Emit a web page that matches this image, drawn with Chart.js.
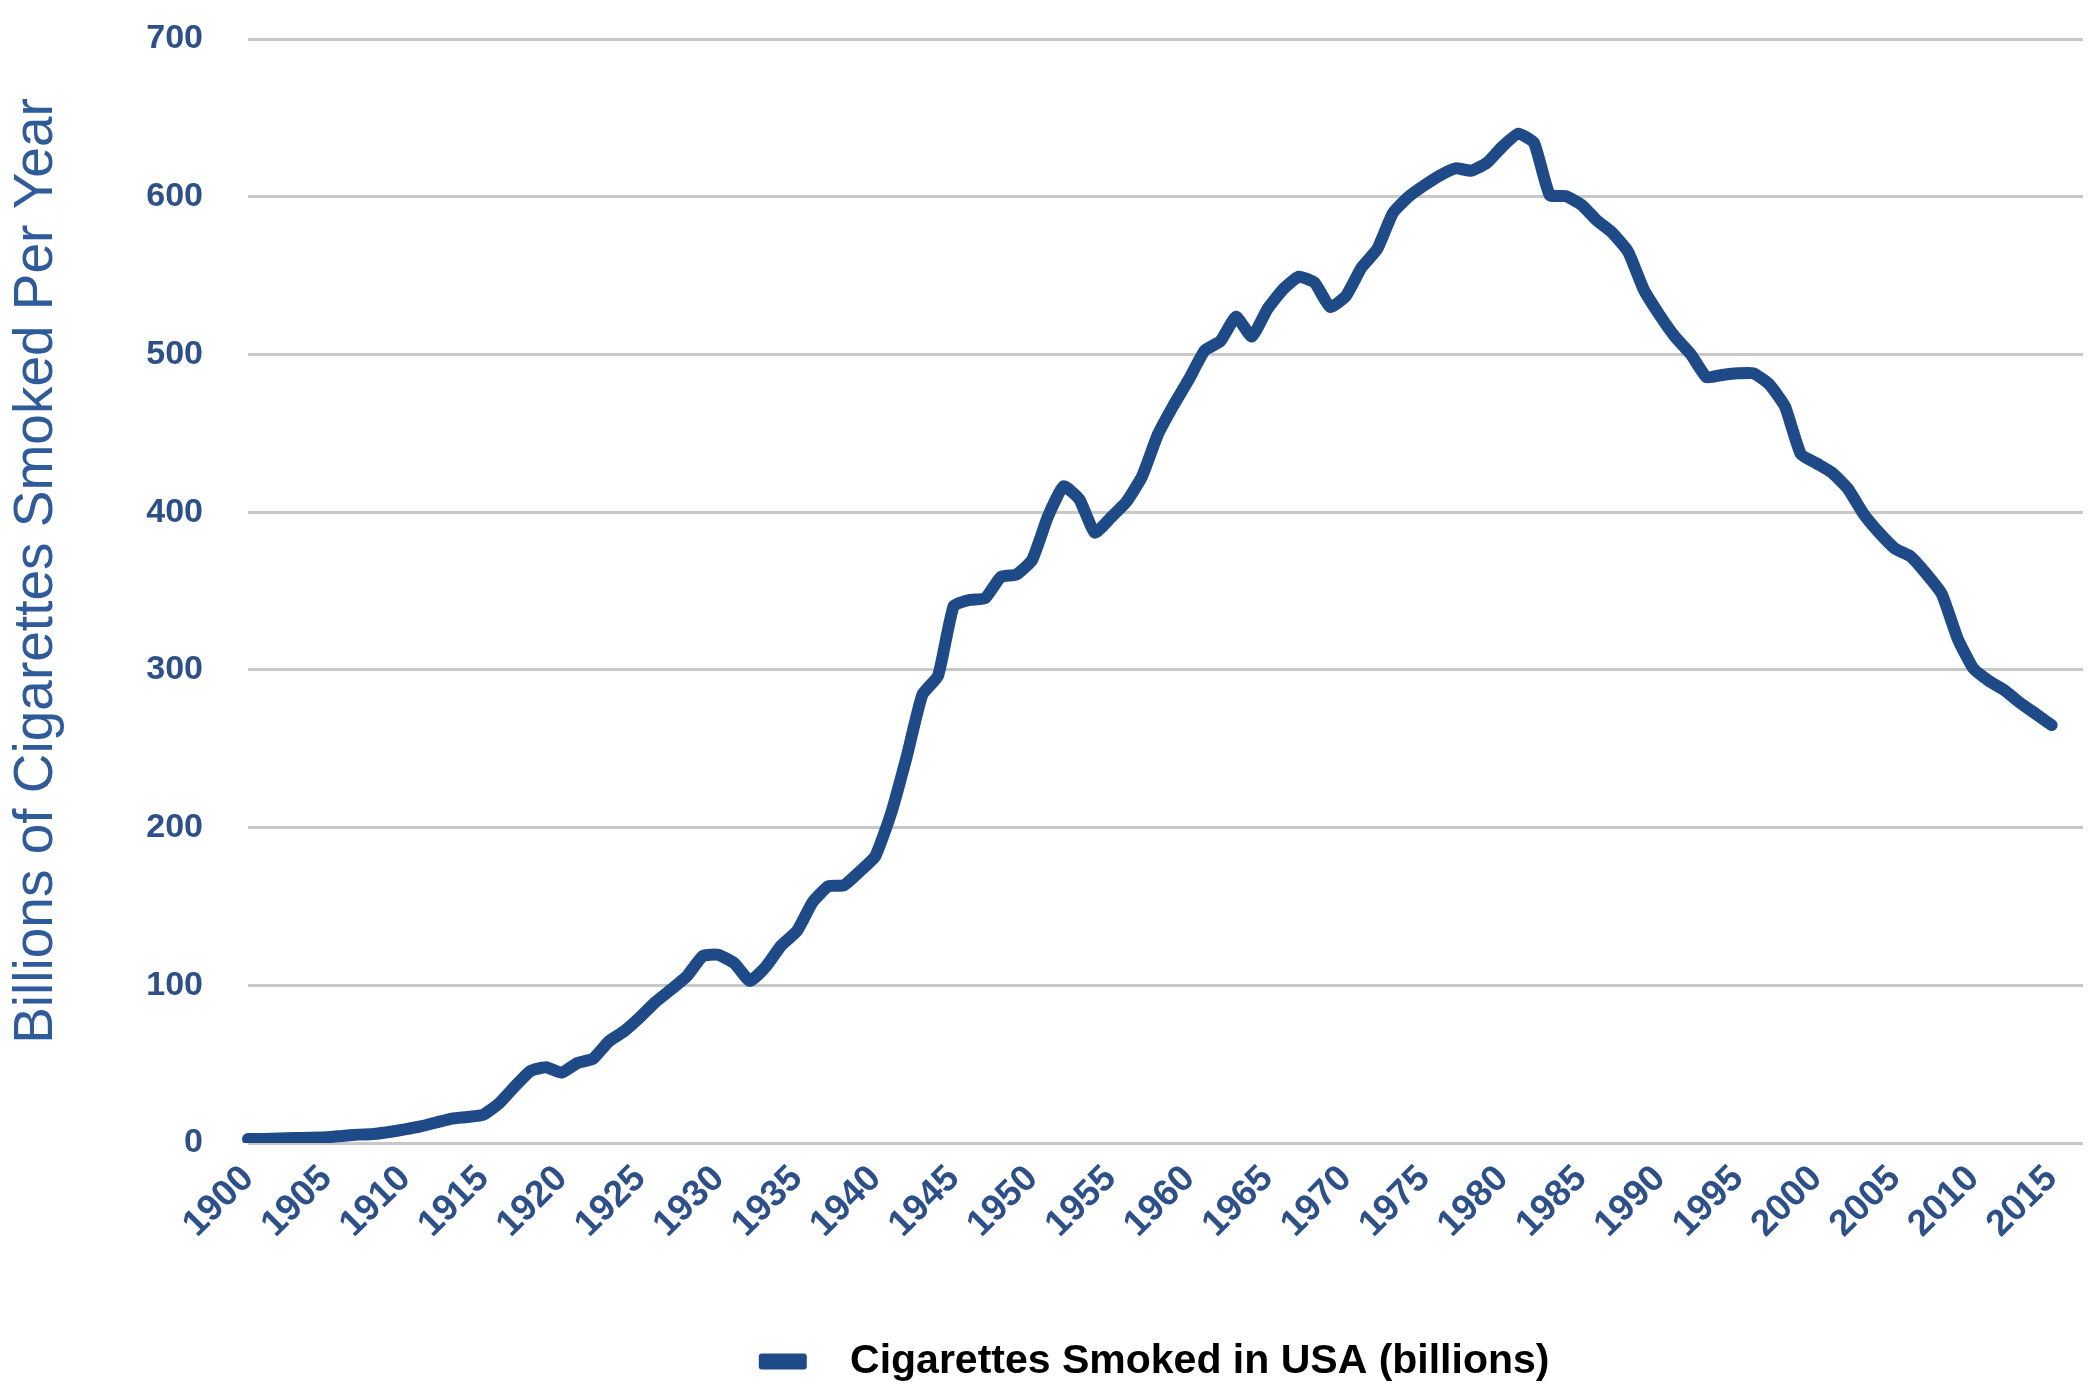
<!DOCTYPE html>
<html>
<head>
<meta charset="utf-8">
<script src="https://cdn.jsdelivr.net/npm/chart.js@4.4.0/dist/chart.umd.min.js"></script>
<style>
    html, body { margin: 0; padding: 0; background: #fff; }
    #wrap { width: 2100px; height: 1394px; }
</style>
</head>
<body>
<div id="wrap"><canvas id="chart-cigarettes" width="2100" height="1394"></canvas></div>
<script>
// Anos do eixo X (o eixo vai até 2017, os dados acabam em 2015)
const anos = [
    '1900','1901','1902','1903','1904','1905','1906','1907','1908','1909',
    '1910','1911','1912','1913','1914','1915','1916','1917','1918','1919',
    '1920','1921','1922','1923','1924','1925','1926','1927','1928','1929',
    '1930','1931','1932','1933','1934','1935','1936','1937','1938','1939',
    '1940','1941','1942','1943','1944','1945','1946','1947','1948','1949',
    '1950','1951','1952','1953','1954','1955','1956','1957','1958','1959',
    '1960','1961','1962','1963','1964','1965','1966','1967','1968','1969',
    '1970','1971','1972','1973','1974','1975','1976','1977','1978','1979',
    '1980','1981','1982','1983','1984','1985','1986','1987','1988','1989',
    '1990','1991','1992','1993','1994','1995','1996','1997','1998','1999',
    '2000','2001','2002','2003','2004','2005','2006','2007','2008','2009',
    '2010','2011','2012','2013','2014','2015','2016','2017'
];

// Rótulos que aparecem no eixo X
const rotulosX = [
    '1900','1905','1910','1915','1920','1925','1930','1935','1940','1945',
    '1950','1955','1960','1965','1970','1975','1980','1985','1990','1995',
    '2000','2005','2010','2015'
];

// Bilhões de cigarros por ano, 1900-2015
const cigarros = [
    2.5, 2.5, 2.8, 3.1, 3.3, 3.6, 4.5, 5.3, 5.7, 7.0,
    8.6, 10.5, 13, 15.5, 16.5, 17.9, 25, 35.7, 45.6, 48,
    44.6, 50.7, 53.4, 64.4, 71, 79.8, 89.5, 97.5, 106, 118.6,
    119.3, 114, 102.8, 111.6, 125.2, 134.4, 152.7, 162.8, 163.4, 172.1,
    181.9, 208.9, 245, 284.3, 296.3, 340.6, 344.3, 345.4, 358.9, 360.5,
    369.8, 397.1, 416.4, 408.2, 387, 396.4, 406.5, 422.5, 448.9, 467.5,
    484.4, 502.5, 508.4, 523.9, 511.3, 528.8, 541.3, 549.3, 545.6, 530,
    537, 555.1, 566.8, 589.7, 600, 607.2, 613.5, 618, 616.5, 621.5,
    632, 640, 634, 601, 600.4, 595, 585, 577, 565, 541,
    525, 511, 500, 485.5, 487, 488, 488, 481, 467, 437,
    431, 425, 415, 399, 387, 377, 372, 361, 348, 320,
    301, 293, 287, 279, 272, 265
];

const tituloY = 'Billions of Cigarettes Smoked Per Year';
const nomeSerie = 'Cigarettes Smoked in USA (billions)';

const corLinha = '#1f4a88';
const corTicks = '#2d5089';
const corTitulo = '#2f5b9b';
const fonte = '"Liberation Sans", Arial, sans-serif';

// Título do eixo Y desenhado à mão para acertar a posição
const tituloEixoY = {
    id: 'tituloEixoY',
    afterDraw(chart) {
        const ctx = chart.ctx;
        ctx.save();
        ctx.translate(37, 571);
        ctx.rotate(-Math.PI / 2);
        ctx.font = '55px ' + fonte;
        ctx.fillStyle = corTitulo;
        ctx.textAlign = 'center';
        ctx.textBaseline = 'middle';
        ctx.fillText(tituloY, 0, 0);
        ctx.restore();
    }
};

const ctx = document.getElementById('chart-cigarettes').getContext('2d');
new Chart(ctx, {
    type: 'line',
    data: {
        labels: anos,
        datasets: [{
            label: nomeSerie,
            data: cigarros,
            borderColor: corLinha,
            backgroundColor: corLinha,
            borderWidth: 12,
            borderCapStyle: 'round',
            borderJoinStyle: 'round',
            pointRadius: 0,
            tension: 0.15,
            fill: false
        }]
    },
    options: {
        responsive: false,
        animation: false,
        devicePixelRatio: 1,
        layout: { padding: { top: 39, right: 17, bottom: 2, left: 0 } },
        plugins: {
            tooltip: { enabled: false },
            legend: {
                position: 'bottom',
                fullSize: false,
                labels: {
                    boxWidth: 48,
                    boxHeight: 16,
                    padding: 10,
                    useBorderRadius: true,
                    color: '#1a1a1a',
                    font: { family: fonte, size: 41, weight: 'bold' },
                    // espaços só para afastar o texto da caixa e centrar como no original
                    generateLabels: (chart) => chart.data.datasets.map((ds, i) => ({
                        text: '  ' + ds.label + '  ',
                        fillStyle: ds.borderColor,
                        strokeStyle: ds.borderColor,
                        lineWidth: 0,
                        borderRadius: 3,
                        datasetIndex: i,
                        hidden: false
                    }))
                }
            }
        },
        scales: {
            x: {
                grid: { display: false, drawTicks: false },
                border: { display: false },
                afterFit: (scale) => {
                    scale.height = 188;
                    scale.paddingTop = 0;
                    scale.paddingBottom = 0;
                    scale.paddingLeft = 0;
                    scale.paddingRight = 0;
                },
                ticks: {
                    autoSkip: false,
                    minRotation: 45,
                    maxRotation: 45,
                    padding: 14,
                    color: corTicks,
                    font: { family: fonte, size: 37, weight: 'bold' },
                    callback: (val, idx) => rotulosX.includes(anos[idx]) ? anos[idx] : ''
                }
            },
            y: {
                min: 0,
                max: 700,
                grid: { color: '#c8c8c8', lineWidth: 3, drawTicks: false },
                border: { display: false },
                afterFit: (scale) => {
                    scale.width = 248;
                    scale.paddingTop = 0;
                    scale.paddingBottom = 0;
                },
                ticks: {
                    stepSize: 100,
                    padding: 45,
                    color: corTicks,
                    font: { family: fonte, size: 34, weight: 'bold' }
                }
            }
        }
    },
    plugins: [tituloEixoY]
});
</script>
</body>
</html>
